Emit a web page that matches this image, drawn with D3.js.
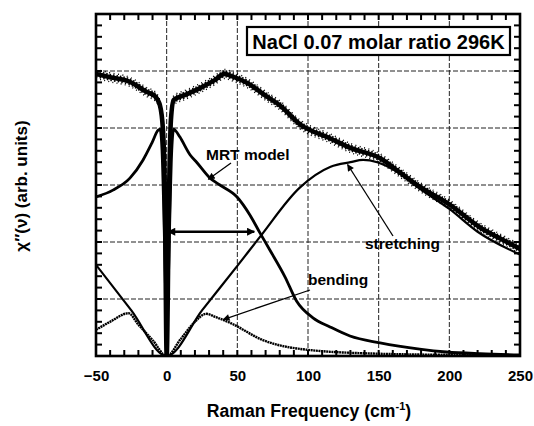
<!DOCTYPE html>
<html><head><meta charset="utf-8">
<script src="https://cdn.jsdelivr.net/npm/d3@7"></script>
<style>body{margin:0;background:#fff}svg{display:block}</style></head>
<body><svg id="c" width="534" height="426"></svg>
<script>
// ---- data (y in arbitrary units, 0..6) ----
const xTicks = [-50, 0, 50, 100, 150, 200, 250];
const expX = [-50, -40, -26, -14, -8.3, -4.8, -2.6, -1.2, 0, 1.6, 3, 5, 13, 23.6, 34, 41, 46, 57, 71, 80, 94, 115.5, 130, 151, 165, 179, 200, 222, 236, 250];
const expY = [4.95, 4.89, 4.81, 4.63, 4.56, 4.40, 3.96, 2.74, 0, 2.74, 4.14, 4.49, 4.58, 4.70, 4.84, 4.95, 4.91, 4.79, 4.55, 4.40, 4.07, 3.82, 3.65, 3.47, 3.22, 2.97, 2.66, 2.25, 2.06, 1.88];
const mrtX = [-50, -38, -26, -16.7, -10.4, -6.1, -4.7, -3.3, -1.9, -0.5, 0, 0.7, 2.2, 3.6, 5.0, 6.4, 9.4, 16.5, 21.5, 30.7, 37.7, 49.8, 59, 66, 73, 83.7, 92, 103.5, 115.6, 129.7, 151, 179, 198, 221.7, 250];
const mrtY = [2.79, 2.91, 3.12, 3.44, 3.74, 3.96, 3.98, 3.61, 2.39, 0.8, 0, 0.8, 2.39, 3.61, 3.98, 3.95, 3.84, 3.53, 3.39, 3.12, 3.0, 2.79, 2.47, 2.16, 1.86, 1.39, 0.96, 0.67, 0.51, 0.35, 0.23, 0.12, 0.07, 0.04, 0.02];
const strX = [-50, -25, 0, 25, 50, 66, 94, 116, 130, 139, 149, 165, 180, 200, 220, 250];
const strY = [1.6, 0.8, 0, 0.8, 1.58, 2.09, 2.95, 3.32, 3.40, 3.44, 3.40, 3.20, 2.92, 2.58, 2.18, 1.78];
const bendX = [-50, -40, -27, -20, -10, 0, 10, 20, 28, 35, 45, 68, 103, 150, 200, 250];
const bendY = [0.46, 0.6, 0.75, 0.55, 0.28, 0, 0.3, 0.6, 0.74, 0.68, 0.58, 0.28, 0.1, 0.04, 0.02, 0.01];
const legendText = "NaCl 0.07 molar ratio 296K";

const svg = d3.select("#c");
const L = 96, R = 520, T = 14, B = 356;
const x = d3.scaleLinear().domain([-50, 250]).range([L, R]);
const y = d3.scaleLinear().domain([0, 6]).range([B, T]);
const font = "Liberation Sans, Arial, sans-serif";

// grid
const g = svg.append("g");
g.selectAll(".vg").data(xTicks.slice(1, -1)).enter().append("line")
  .attr("x1", d => x(d)).attr("x2", d => x(d)).attr("y1", T).attr("y2", B)
  .attr("stroke", "#222").attr("stroke-width", 1).attr("stroke-dasharray", "5,2");
g.selectAll(".hg").data([1, 2, 3, 4, 5]).enter().append("line")
  .attr("y1", d => y(d)).attr("y2", d => y(d)).attr("x1", L).attr("x2", R)
  .attr("stroke", "#222").attr("stroke-width", 1).attr("stroke-dasharray", "5,2");

// x tick labels
const xl = svg.append("g").attr("transform", `translate(0,${B})`)
  .call(d3.axisBottom(x).tickValues(xTicks).tickSize(0).tickPadding(14).tickFormat(d3.format("d")));
xl.select(".domain").remove();
xl.selectAll("text").attr("font-family", font).attr("font-weight", "bold").attr("font-size", 15).attr("fill", "#000");

const line = d3.line().x(d => x(d[0])).y(d => y(d[1])).curve(d3.curveMonotoneX);
svg.append("clipPath").attr("id", "pc").append("rect").attr("x", L).attr("y", T).attr("width", R - L).attr("height", B - T);
const plot = svg.append("g").attr("clip-path", "url(#pc)");

// experimental data (dense scattered dots rendered as a band with dotted fringes)
const exp = d3.zip(expX, expY);
const expD = line(exp);
[[-4.5, "1,3.5", 1.4], [-2.8, "1.5,2", 1.6], [2.8, "1.5,2.2", 1.6], [4.6, "1,3.2", 1.4]].forEach(([dy, da, w]) => {
  plot.append("path").attr("d", expD).attr("transform", `translate(0,${dy})`).attr("fill", "none")
    .attr("stroke", "#000").attr("stroke-width", w).attr("stroke-dasharray", da);
});
plot.append("path").attr("d", expD).attr("fill", "none")
  .attr("stroke", "#000").attr("stroke-width", 4.6);

// model components
plot.append("path").attr("d", line(d3.zip(strX, strY))).attr("fill", "none")
  .attr("stroke", "#000").attr("stroke-width", 2.2);
plot.append("path").attr("d", line(d3.zip(bendX, bendY))).attr("fill", "none")
  .attr("stroke", "#000").attr("stroke-width", 2.4).attr("stroke-dasharray", "2,0.6");
plot.append("path").attr("d", line(d3.zip(mrtX, mrtY))).attr("fill", "none")
  .attr("stroke", "#000").attr("stroke-width", 2.8);

// frame
svg.append("rect").attr("x", L).attr("y", T).attr("width", R - L).attr("height", B - T)
  .attr("fill", "none").attr("stroke", "#000").attr("stroke-width", 2.6);

// markers
const defs = svg.append("defs");
defs.append("marker").attr("id", "ah").attr("viewBox", "0 0 10 10").attr("refX", 9).attr("refY", 5)
  .attr("markerWidth", 9).attr("markerHeight", 7).attr("markerUnits", "userSpaceOnUse").attr("orient", "auto-start-reverse")
  .append("path").attr("d", "M0,0L10,5L0,10Z").attr("fill", "#000");
defs.append("marker").attr("id", "ah2").attr("viewBox", "0 0 10 10").attr("refX", 9).attr("refY", 5)
  .attr("markerWidth", 12).attr("markerHeight", 8).attr("markerUnits", "userSpaceOnUse").attr("orient", "auto-start-reverse")
  .append("path").attr("d", "M0,0L10,5L0,10Z").attr("fill", "#000");

// double arrow
svg.append("line").attr("x1", x(1)).attr("x2", x(62)).attr("y1", y(2.18)).attr("y2", y(2.18))
  .attr("stroke", "#000").attr("stroke-width", 2.4).attr("marker-start", "url(#ah2)").attr("marker-end", "url(#ah2)");

// annotations
function ann(tx, ty, label, ax1, ay1, ax2, ay2) {
  svg.append("text").attr("x", tx).attr("y", ty).text(label).attr("font-family", font)
    .attr("font-weight", "bold").attr("font-size", 15.5).attr("fill", "#000");
  svg.append("line").attr("x1", ax1).attr("y1", ay1).attr("x2", ax2).attr("y2", ay2)
    .attr("stroke", "#000").attr("stroke-width", 1.3).attr("marker-end", "url(#ah)");
}
ann(206, 160, "MRT model", 231, 163, x(29.5), y(3.1));
ann(365, 249, "stretching", 393, 236, x(128), y(3.36));
ann(308, 285, "bending", 310, 290, x(40), y(0.64));

// legend box
const lg = svg.append("g");
lg.append("rect").attr("x", 247).attr("y", 27).attr("width", 263).attr("height", 28)
  .attr("fill", "#fff").attr("stroke", "#000").attr("stroke-width", 2.2);
lg.append("text").attr("x", 378.5).attr("y", 49).attr("text-anchor", "middle").text(legendText)
  .attr("font-family", font).attr("font-weight", "bold").attr("font-size", 20).attr("fill", "#000");

// axis titles
const xt = svg.append("text").attr("x", 309).attr("y", 417).attr("text-anchor", "middle")
  .attr("font-family", font).attr("font-weight", "bold").attr("font-size", 17.6).attr("fill", "#000");
xt.append("tspan").text("Raman Frequency (cm");
xt.append("tspan").text("-1").attr("font-size", 11).attr("dy", -7);
xt.append("tspan").text(")").attr("dy", 7);
svg.append("text").attr("transform", "translate(27,186) rotate(-90)").attr("text-anchor", "middle")
  .attr("font-family", font).attr("font-weight", "bold").attr("font-size", 17).attr("fill", "#000")
  .text("\u03C7\u2033(\u03BD) (arb. units)");

// inward minor ticks on all four sides (drawn last, on top)
const xMinor = d3.range(-50, 251, 10), yMinor = d3.range(0, 31, 1).map(k => k * 0.2);
const tks = svg.append("g");
function tick(x1, y1, x2, y2) {
  tks.append("line").attr("x1", x1).attr("y1", y1).attr("x2", x2).attr("y2", y2)
    .style("stroke", "#000").style("stroke-width", "2px");
}
xMinor.forEach(v => { tick(x(v), B, x(v), B - 6); tick(x(v), T, x(v), T + 6); });
yMinor.forEach(v => { tick(L, y(v), L + 6, y(v)); tick(R, y(v), R - 6, y(v)); });
</script></body></html>
